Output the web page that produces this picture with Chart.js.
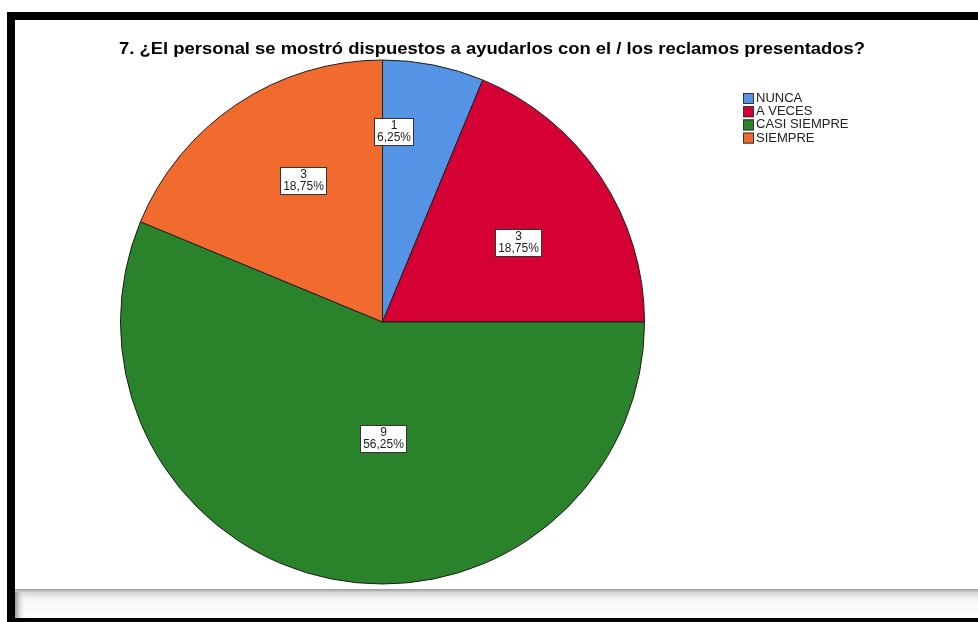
<!DOCTYPE html>
<html>
<head>
<meta charset="utf-8">
<script src="https://cdn.jsdelivr.net/npm/chart.js@4/dist/chart.umd.min.js"></script>
<style>
  html, body { margin: 0; padding: 0; background: #fff; }
  #wrap { width: 978px; height: 622px; position: relative; }
</style>
</head>
<body>
<div id="wrap"><canvas id="pie" width="978" height="622"></canvas></div>
<script>
// Datos de la pregunta 7
const TITULO = '7. ¿El personal se mostró dispuestos a ayudarlos con el / los reclamos presentados?';
const categorias = ['NUNCA', 'A VECES', 'CASI SIEMPRE', 'SIEMPRE'];
const frecuencias = [1, 3, 9, 3];
const colores = ['#5594e4', '#d50033', '#2a832a', '#f16b2e'];

// Posición de cada etiqueta dentro de su sector (fracción del ángulo, fracción del radio)
const posEtiquetas = [[0.14, 0.73], [0.55, 0.60], [0.444, 0.443], [0.563, 0.62]];

const total = frecuencias.reduce((a, b) => a + b, 0);
function porcentaje(v) {
    return (v / total * 100).toFixed(2).replace('.', ',') + '%';
}

// Marco negro y barra gris inferior
const marcoPlugin = {
    id: 'marco',
    beforeDraw(chart) {
        const ctx = chart.ctx;
        ctx.save();
        ctx.fillStyle = '#fff';
        ctx.fillRect(0, 0, 978, 622);
        ctx.fillStyle = '#000';
        ctx.fillRect(7, 12, 971, 8);
        ctx.fillRect(7, 12, 8, 610);
        ctx.fillRect(7, 618, 971, 4);
        // barra gris con degradado
        let g = ctx.createLinearGradient(0, 589, 0, 618);
        g.addColorStop(0, '#9a9a9a');
        g.addColorStop(0.12, '#d6d6d6');
        g.addColorStop(0.35, '#f6f6f6');
        g.addColorStop(1, '#ffffff');
        ctx.fillStyle = g;
        ctx.fillRect(15, 589, 963, 29);
        g = ctx.createLinearGradient(15, 0, 26, 0);
        g.addColorStop(0, 'rgba(140,140,140,0.9)');
        g.addColorStop(1, 'rgba(255,255,255,0)');
        ctx.fillStyle = g;
        ctx.fillRect(15, 592, 11, 26);
        ctx.restore();
    }
};

// Dibuja un texto ajustado a un ancho dado (fuente estrecha)
function textoAjustado(ctx, txt, x, y, ancho) {
    const w = ctx.measureText(txt).width;
    ctx.save();
    ctx.translate(x, y);
    ctx.scale(ancho / w, 1);
    ctx.fillText(txt, 0, 0);
    ctx.restore();
}

// Título, leyenda y etiquetas de los sectores
const textosPlugin = {
    id: 'textos',
    afterDraw(chart) {
        const ctx = chart.ctx;
        ctx.save();

        // título
        ctx.font = 'bold 17px "Liberation Sans", Arial, sans-serif';
        ctx.fillStyle = '#000';
        ctx.textBaseline = 'alphabetic';
        ctx.textAlign = 'left';
        textoAjustado(ctx, TITULO, 119, 54, 746);

        // leyenda
        ctx.font = '13px "Liberation Sans", Arial, sans-serif';
        ctx.textBaseline = 'middle';
        categorias.forEach((c, i) => {
            const y = 98 + i * 13.2;
            ctx.fillStyle = colores[i];
            ctx.fillRect(743, y - 5, 11, 11);
            ctx.strokeStyle = '#333';
            ctx.lineWidth = 1;
            ctx.strokeRect(743.5, y - 4.5, 10, 10);
            ctx.fillStyle = '#222';
            ctx.fillText(c, 756, y + 0.5);
        });

        // etiquetas dentro de los sectores
        const meta = chart.getDatasetMeta(0);
        ctx.font = '12px "Liberation Sans", Arial, sans-serif';
        ctx.textAlign = 'center';
        meta.data.forEach((arc, i) => {
            const p = arc.getProps(['x', 'y', 'startAngle', 'endAngle', 'outerRadius'], true);
            const ang = p.startAngle + (p.endAngle - p.startAngle) * posEtiquetas[i][0];
            const r = p.outerRadius * posEtiquetas[i][1];
            const cx = p.x + Math.cos(ang) * r;
            const cy = p.y + Math.sin(ang) * r;
            const l1 = String(frecuencias[i]);
            const l2 = porcentaje(frecuencias[i]);
            const bw = Math.round(Math.max(ctx.measureText(l1).width, ctx.measureText(l2).width)) + 5;
            const bh = 27;
            const bx = Math.round(cx - bw / 2) + 0.5;
            const by = Math.round(cy - bh / 2) + 0.5;
            ctx.fillStyle = '#fff';
            ctx.fillRect(bx, by, bw, bh);
            ctx.strokeStyle = '#333';
            ctx.strokeRect(bx, by, bw, bh);
            ctx.fillStyle = '#222';
            ctx.fillText(l1, bx + bw / 2, by + 7.5);
            ctx.fillText(l2, bx + bw / 2, by + 19);
        });
        ctx.restore();
    }
};

new Chart(document.getElementById('pie'), {
    type: 'pie',
    data: {
        labels: categorias,
        datasets: [{
            data: frecuencias,
            backgroundColor: colores,
            borderColor: '#1e1e1e',
            borderWidth: 1,
            radius: 262
        }]
    },
    options: {
        responsive: false,
        animation: false,
        layout: { padding: { left: 110, right: 323, top: 50, bottom: 28 } },
        plugins: {
            legend: { display: false },
            title: { display: false },
            tooltip: { enabled: false }
        }
    },
    plugins: [marcoPlugin, textosPlugin]
});
</script>
</body>
</html>
